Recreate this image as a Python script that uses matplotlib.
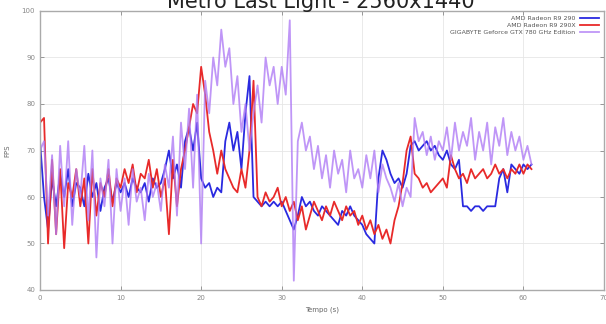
import numpy as np
import matplotlib
matplotlib.use("Agg")
import matplotlib.pyplot as plt

# time axis, one sample every 0.5 s
t = np.arange(0, 61.5, 0.5)

fps_290 = [
    72, 60, 53, 64, 58, 65, 60, 66, 58, 63,
    62, 58, 65, 60, 63, 57, 62, 64, 59, 63,
    61, 63, 60, 64, 62, 61, 63, 59, 64, 62,
    63, 66, 70, 64, 67, 62, 72, 75, 70, 76,
    64, 62, 63, 60, 62, 61, 72, 76, 70, 74,
    66, 78, 86, 60, 59, 58, 59, 58, 59, 58,
    59, 57, 55, 53, 56, 60, 58, 59, 57, 56,
    58, 57, 56, 55, 54, 57, 56, 58, 56, 55,
    54, 52, 51, 50, 64, 70, 68, 65, 63, 64,
    62, 65, 71, 72, 70, 71, 72, 70, 71, 69,
    68, 70, 67, 66, 68, 58, 58, 57, 58, 58,
    57, 58, 58, 58, 64, 66, 61, 67, 66, 65,
    67, 66, 67,
]

fps_290x = [
    76, 77, 50, 68, 52, 66, 49, 63, 60, 66,
    58, 64, 50, 66, 56, 63, 60, 66, 58, 64,
    62, 66, 63, 67, 61, 65, 64, 68, 62, 66,
    60, 64, 52, 68, 58, 66, 70, 75, 80, 78,
    88, 82, 74, 70, 65, 70, 66, 64, 62, 61,
    66, 62, 70, 85, 60, 58, 61, 59, 60, 62,
    58, 60, 57, 59, 55, 58, 53, 56, 59, 57,
    55, 58, 56, 59, 57, 55, 58, 56, 57, 54,
    56, 53, 55, 52, 54, 51, 53, 50, 55, 58,
    63, 70, 73, 65, 64, 62, 63, 61, 62, 63,
    64, 62, 69, 66, 64, 65, 63, 66, 64, 65,
    66, 64, 65, 67, 65, 66, 64, 66, 65, 67,
    65, 67, 66,
]

fps_780 = [
    70, 72, 56, 69, 52, 71, 58, 72, 54, 66,
    60, 71, 55, 70, 47, 64, 58, 68, 50, 66,
    57, 64, 54, 66, 59, 62, 55, 65, 60, 63,
    57, 67, 62, 73, 56, 76, 66, 79, 62, 82,
    50, 85, 78, 90, 84, 96, 88, 92, 80, 86,
    74, 80, 70, 78, 84, 76, 90, 84, 88, 80,
    88, 82, 98, 42, 72, 76, 70, 73, 66, 71,
    64, 69, 62, 70, 65, 68, 61, 70, 64, 66,
    62, 69, 64, 70, 61, 67, 64, 62, 59, 63,
    58, 62, 60, 77, 72, 74, 69, 73, 68, 72,
    70, 75, 68, 76, 70, 74, 71, 77, 68, 74,
    70, 76, 67, 75, 71, 77, 69, 74, 70, 73,
    68, 71, 67,
]

labels = ["AMD Radeon R9 290", "AMD Radeon R9 290X", "GIGABYTE Geforce GTX 780 GHz Edition"]

fig = plt.figure(figsize=(6.06, 3.24), dpi=100)
ax = fig.add_axes([40 / 606, 34 / 324, 564 / 606, 279 / 324])

ax.plot(t, fps_290, color="#2a2ae0", lw=1.3, label=labels[0])
ax.plot(t, fps_290x, color="#e82a2a", lw=1.3, label=labels[1])
ax.plot(t, fps_780, color="#b07cf5", lw=1.3, alpha=0.8, label=labels[2])

ax.set_xlim(0, 70)
ax.set_ylim(40, 100)
ax.set_xticks(range(0, 71, 10))
ax.set_yticks(range(40, 101, 10))
ax.grid(color="#e6e6e6", lw=0.6)
ax.tick_params(direction="in", top=True, right=True, labelsize=5, colors="#888888", length=3, width=0.6)
for s in ax.spines.values():
    s.set_color("#aaaaaa")
    s.set_linewidth(1.0)

ax.set_xlabel("Tempo (s)", fontsize=5, color="#666666", labelpad=4)
ax.set_ylabel("FPS", fontsize=5, color="#666666", labelpad=8)

leg = ax.legend(loc="upper right", fontsize=4.5, frameon=False, markerfirst=False,
                handlelength=3, labelspacing=0.25, borderaxespad=0.4)
for txt in leg.get_texts():
    txt.set_color("#555555")

fig.text(0.53, 0.995, "Metro Last Light - 2560x1440", ha="center", va="center", fontsize=15, color="#222222")

fig.savefig("out.png", dpi=100)
